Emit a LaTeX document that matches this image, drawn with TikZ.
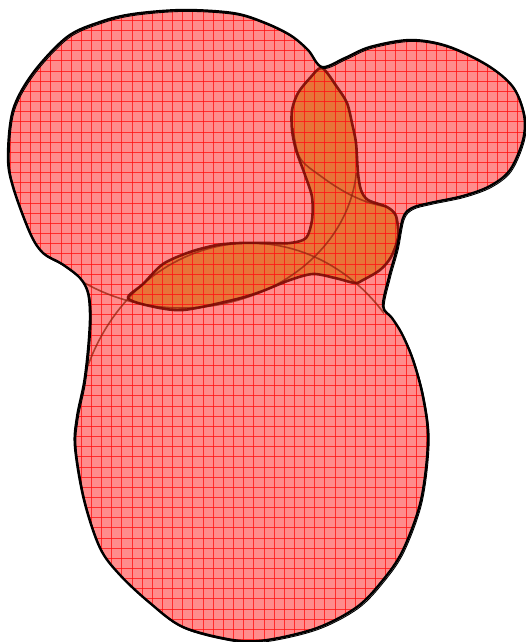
\documentclass[tikz,border=0pt]{standalone}
\usepackage{xcolor}
\definecolor{vennPink}{RGB}{255, 140, 140}
\definecolor{vennOrange}{RGB}{232, 116, 56}
\definecolor{vennGrid}{RGB}{255, 20, 20}
\definecolor{vennEdge}{RGB}{125, 10, 5}
\definecolor{vennSet}{RGB}{150, 35, 15}
\usepackage{tikz}
\usetikzlibrary{calc}

% outline round the union of the three sets
\newcommand{\hullPath}{plot[smooth cycle, tension=0.55] coordinates {
    (8,157) (13,110) (33,73) (67,37) (100,22) (133,14) (183,10) (233,13)
    (263,22) (290,35) (308,50) (322,67) (345,58) (370,47) (410,40) (447,46)
    (487,65) (513,87) (524,115) (523,140) (510,170) (490,186) (463,196)
    (430,203) (412,208) (403,218) (397,248) (389,277) (383,306) (392,318)
    (402,334) (413,360) (423,397) (428,440) (421,500) (403,550) (383,580)
    (357,607) (317,628) (267,640) (233,640) (183,627) (150,603) (120,575)
    (100,548) (84,500) (75,447) (77,417) (84,383) (88,350) (90,317) (88,293)
    (80,278) (62,264) (43,253) (30,233) (13,187)}}
% region where two of the sets overlap
\newcommand{\overlapPath}{plot[smooth cycle, tension=0.5] coordinates {
    (322,68) (337,87) (347,103) (352,123) (356,143) (358,173) (361,190)
    (368,200) (387,207) (396,216) (398,237) (391,257) (380,270) (363,280)
    (355,283) (335,278) (313,274) (290,280) (260,292) (233,300) (183,310)
    (150,306) (128,298) (143,284) (163,264) (190,252) (217,245) (240,243)
    (267,243) (290,243) (306,238) (312,220) (312,197) (305,175) (296,150)
    (292,130) (292,110) (298,93) (310,78)}}

\begin{document}
\begin{tikzpicture}[
    x=1pt, y=-1pt,
    hullLine/.style={draw=black, line width=2.4pt, line join=round},
    hullSketch/.style={draw=black, line width=0.9pt, line join=round},
    gridLine/.style={draw=vennGrid, line width=0.8pt, opacity=0.8},
    setLine/.style={draw=vennSet, line width=1.6pt, opacity=0.75},
    overlapEdge/.style={draw=vennEdge, line width=2.6pt, line join=round, opacity=0.9}
]
    \useasboundingbox (0,0) rectangle (526,642);

    % Fills
    \fill[vennPink] \hullPath;
    \fill[vennOrange] \overlapPath;

    \begin{scope}
        \clip \hullPath;
        \foreach \k in {0,...,52} {
            \draw[gridLine] (\k*10.15,0) -- (\k*10.15,642);
        }
        \foreach \k in {0,...,63} {
            \draw[gridLine] (0,\k*10.15) -- (526,\k*10.15);
        }

        % Set boundaries inside the outline
        \draw[setLine] plot[domain=5:128, samples=60]
            ({182+175*cos(\x)}, {160+148*sin(\x)});
        \draw[setLine] plot[domain=-158:-40, samples=60]
            ({250+175*cos(\x)}, {440+197*sin(\x)});
        \draw[setLine] plot[smooth, tension=0.55] coordinates {
            (293,128) (300,158) (322,177) (345,192) (367,202) (387,207)};
    \end{scope}

    % Outlines
    \draw[overlapEdge] \overlapPath;
    \draw[hullLine] \hullPath;
    \draw[hullSketch, shift={(1.2,1.4)}] \hullPath;

\end{tikzpicture}
\end{document}
